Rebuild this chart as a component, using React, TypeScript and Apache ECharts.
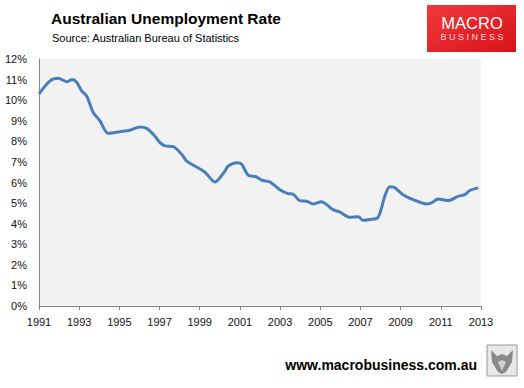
import React, { useEffect, useRef } from "react";
import * as echarts from "echarts";

const years = [
  1991.0, 1991.55, 1991.96, 1992.38, 1992.66, 1992.88, 1993.12, 1993.37, 1993.7, 1994.03,
  1994.45, 1995.03, 1995.53, 1996.02, 1996.36, 1996.69, 1997.02, 1997.27, 1997.68, 1998.1,
  1998.35, 1998.76, 1999.26, 1999.76, 2000.25, 2000.42, 2000.84, 2001.08, 2001.41, 2001.8,
  2002.1, 2002.49, 2002.99, 2003.4, 2003.65, 2003.98, 2004.32, 2004.65, 2005.06, 2005.31,
  2005.64, 2005.97, 2006.47, 2006.89, 2007.13, 2007.47, 2007.85, 2008.05, 2008.21, 2008.46,
  2008.66, 2009.12, 2009.62, 2010.29, 2010.54, 2010.87, 2011.37, 2011.86, 2012.19, 2012.44,
  2012.86,
];
const rates = [
  10.3, 10.94, 11.06, 10.9, 11.0, 10.86, 10.45, 10.2, 9.4, 9.0,
  8.39, 8.47, 8.54, 8.7, 8.63, 8.34, 7.94, 7.78, 7.74, 7.37,
  7.04, 6.8, 6.5, 6.03, 6.55, 6.8, 6.96, 6.9, 6.36, 6.28,
  6.11, 6.03, 5.65, 5.46, 5.43, 5.12, 5.09, 4.96, 5.06, 4.93,
  4.68, 4.57, 4.31, 4.34, 4.16, 4.2, 4.28, 4.77, 5.33, 5.79,
  5.77, 5.41, 5.17, 4.96, 5.01, 5.2, 5.12, 5.33, 5.41, 5.61,
  5.74,
];
const startYear = 1991;
const endYear = 2013;
const yearStep = 2;
const yMax = 12;

const FONT = "'Liberation Sans', Arial, sans-serif";

export default function App() {
  const ref = useRef<HTMLDivElement>(null);
  useEffect(() => {
    if (!ref.current) return;
    const chart = echarts.init(ref.current, null, { renderer: "svg" });
    const data = years.map((y, i) => [y - startYear, rates[i]]);
    chart.setOption({
      animation: false,
      backgroundColor: "#ffffff",
      textStyle: { fontFamily: FONT },
      grid: {
        left: 39,
        right: 43,
        top: 59,
        bottom: 82,
        show: true,
        backgroundColor: "#f2f2f2",
        borderWidth: 0,
      },
      xAxis: {
        type: "value",
        min: 0,
        max: endYear - startYear,
        interval: yearStep,
        splitLine: { show: false },
        axisLine: { show: true, lineStyle: { color: "#868686", width: 1 } },
        axisTick: { show: true, length: 4, lineStyle: { color: "#868686" } },
        axisLabel: {
          color: "#111",
          fontSize: 11,
          fontFamily: FONT,
          margin: 10,
          formatter: (v: number) => String(startYear + v),
        },
      },
      yAxis: {
        type: "value",
        min: 0,
        max: yMax,
        interval: 1,
        splitLine: { show: false },
        axisLine: { show: true, lineStyle: { color: "#868686", width: 1 } },
        axisTick: { show: false },
        axisLabel: {
          color: "#111",
          fontSize: 11,
          fontFamily: FONT,
          margin: 12,
          formatter: "{value}%",
        },
      },
      series: [
        {
          type: "line",
          data,
          smooth: 0.3,
          showSymbol: false,
          lineStyle: { color: "#4a7ebb", width: 3 },
        },
      ],
      graphic: [
        {
          type: "text",
          left: 51,
          top: 10,
          style: {
            text: "Australian Unemployment Rate",
            fontSize: 15.5,
            fontWeight: "bold",
            fontFamily: FONT,
            fill: "#000",
          },
        },
        {
          type: "text",
          left: 52,
          top: 32,
          style: {
            text: "Source: Australian Bureau of Statistics",
            fontSize: 11,
            fontFamily: FONT,
            fill: "#000",
          },
        },
        {
          type: "rect",
          shape: { x: 427, y: 5, width: 89, height: 47 },
          style: {
            fill: new echarts.graphic.LinearGradient(0, 0, 1, 1, [
              { offset: 0, color: "#f03a3a" },
              { offset: 1, color: "#d8121a" },
            ]),
          },
        },
        {
          type: "text",
          x: 472,
          y: 23,
          style: {
            text: "MACRO",
            fontSize: 16.5,
            fontFamily: FONT,
            fill: "#ffffff",
            align: "center",
            verticalAlign: "middle",
          },
        },
        {
          type: "text",
          x: 472,
          y: 36.5,
          style: {
            text: "B U S I N E S S",
            fontSize: 9,
            fontFamily: FONT,
            fill: "#f6dede",
            align: "center",
            verticalAlign: "middle",
          },
        },
        {
          type: "text",
          x: 477,
          y: 365,
          style: {
            text: "www.macrobusiness.com.au",
            fontSize: 14,
            fontWeight: "bold",
            fontFamily: FONT,
            fill: "#000",
            align: "right",
            verticalAlign: "middle",
          },
        },
        {
          type: "rect",
          shape: { x: 487, y: 345, width: 30, height: 31 },
          style: { fill: "#e8e8e8", stroke: "#9a9a9a", lineWidth: 1 },
        },
        {
          type: "polygon",
          shape: {
            points: [
              [491, 350], [497, 356], [502, 354], [507, 356], [513, 350],
              [512, 362], [506, 372], [502, 374], [498, 372], [492, 362],
            ],
          },
          style: { fill: "#8a8a8a" },
        },
        {
          type: "polygon",
          shape: { points: [[498, 362], [502, 360], [506, 362], [502, 371]] },
          style: { fill: "#d0d0d0" },
        },
      ],
    });
    return () => chart.dispose();
  }, []);
  return (
    <div
      ref={ref}
      style={{ position: "fixed", left: 0, top: 0, width: 524, height: 388 }}
    />
  );
}
